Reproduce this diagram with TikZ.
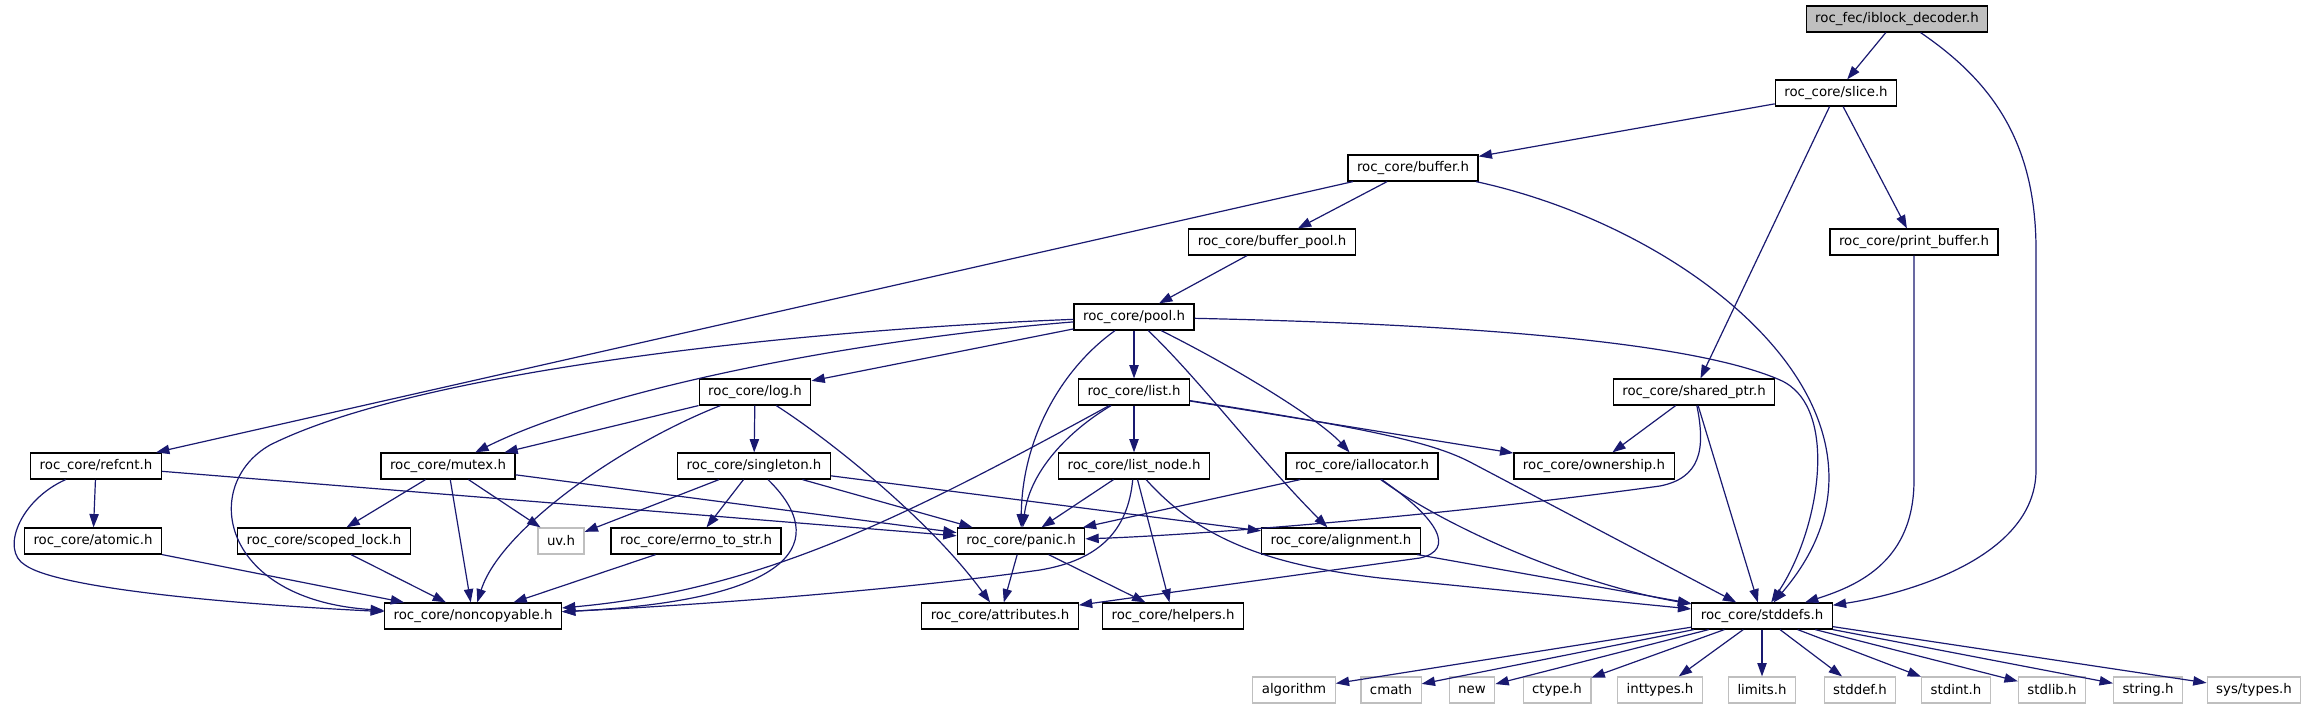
\documentclass[tikz,border=0pt]{standalone}
\usepackage{fontspec}
\setmainfont{DejaVu Sans}
\usetikzlibrary{arrows.meta}
\definecolor{edgeblue}{HTML}{191970}
\definecolor{sysgray}{HTML}{BFBFBF}
\tikzset{
  hdr/.style={draw=black,line width=0.9pt,fill=white,inner xsep=6.75pt,inner ysep=0pt,
    minimum height=19.5pt,font=\fontsize{10}{12}\selectfont},
  mainhdr/.style={hdr,fill=sysgray},
  syshdr/.style={hdr,draw=sysgray},
  dep/.style={draw=edgeblue,line width=0.9pt,-{Triangle[length=10pt,width=7pt]}}
}

\begin{document}
\begin{tikzpicture}[x=0.75pt,y=-0.75pt]
\useasboundingbox (0,0) rectangle (2308,709);
% headers, one row of the graph after the other
\node[mainhdr] (iblock) at (1897,19) {roc\_fec/iblock\_decoder.h};
\node[hdr] (slice) at (1836,93) {roc\_core/slice.h};
\node[hdr] (buffer) at (1413,168) {roc\_core/buffer.h};
\node[hdr] (bufpool) at (1272,242) {roc\_core/buffer\_pool.h};
\node[hdr] (printbuf) at (1914,242) {roc\_core/print\_buffer.h};
\node[hdr] (pool) at (1134,317) {roc\_core/pool.h};
\node[hdr] (log) at (755,392) {roc\_core/log.h};
\node[hdr] (list) at (1134,392) {roc\_core/list.h};
\node[hdr] (sharedptr) at (1694,392) {roc\_core/shared\_ptr.h};
\node[hdr] (refcnt) at (96,466) {roc\_core/refcnt.h};
\node[hdr] (mutex) at (448,466) {roc\_core/mutex.h};
\node[hdr] (singleton) at (754,466) {roc\_core/singleton.h};
\node[hdr] (listnode) at (1134,466) {roc\_core/list\_node.h};
\node[hdr] (iallocator) at (1362,466) {roc\_core/iallocator.h};
\node[hdr] (ownership) at (1594,466) {roc\_core/ownership.h};
\node[hdr] (atomic) at (93,541) {roc\_core/atomic.h};
\node[hdr] (scopedlock) at (324,541) {roc\_core/scoped\_lock.h};
\node[syshdr] (uv) at (561,541) {uv.h};
\node[hdr] (errnostr) at (696,541) {roc\_core/errno\_to\_str.h};
\node[hdr] (panic) at (1021,541) {roc\_core/panic.h};
\node[hdr] (alignment) at (1341,541) {roc\_core/alignment.h};
\node[hdr] (noncopyable) at (473,616) {roc\_core/noncopyable.h};
\node[hdr] (attributes) at (1000,616) {roc\_core/attributes.h};
\node[hdr] (helpers) at (1173,616) {roc\_core/helpers.h};
\node[hdr] (stddefs) at (1762,616) {roc\_core/stddefs.h};
% system headers
\node[syshdr] (algorithm) at (1294,690) {algorithm};
\node[syshdr] (cmath) at (1391,690) {cmath};
\node[syshdr] (new) at (1472,690) {new};
\node[syshdr] (ctype) at (1557,690) {ctype.h};
\node[syshdr] (inttypes) at (1660,690) {inttypes.h};
\node[syshdr] (limits) at (1762,690) {limits.h};
\node[syshdr] (stddef) at (1860,690) {stddef.h};
\node[syshdr] (stdint) at (1956,690) {stdint.h};
\node[syshdr] (stdlib) at (2052,690) {stdlib.h};
\node[syshdr] (string) at (2148,690) {string.h};
\node[syshdr] (systypes) at (2254,690) {sys/types.h};

% includes
\draw[dep] (iblock) -- (slice);
\draw[dep] (iblock.-30) .. controls (1990,80) and (2036,140) .. (2036,250) -- (2036,470) .. controls (2036,560) and (1900,595) .. (stddefs);
\draw[dep] (slice) -- (buffer);
\draw[dep] (slice) -- (sharedptr);
\draw[dep] (slice) -- (printbuf);
\draw[dep] (buffer) -- (bufpool);
\draw[dep] (buffer) -- (refcnt);
\draw[dep] (buffer) .. controls (1700,230) and (1930,420) .. (stddefs);
\draw[dep] (bufpool) -- (pool);
\draw[dep] (printbuf) -- (1914,480) .. controls (1914,560) and (1860,585) .. (stddefs);
\draw[dep] (pool) -- (log);
\draw[dep] (pool) .. controls (850,340) and (600,390) .. (mutex);
\draw[dep] (pool) .. controls (800,330) and (420,370) .. (270,445) .. controls (200,485) and (220,600) .. (noncopyable);
\draw[dep] (pool) -- (list);
\draw[dep] (pool) .. controls (1060,370) and (1022,440) .. (panic);
\draw[dep] (pool) .. controls (1200,380) and (1260,460) .. (alignment);
\draw[dep] (pool) .. controls (1240,370) and (1320,420) .. (iallocator);
\draw[dep] (pool) .. controls (1500,325) and (1700,345) .. (1780,380) .. controls (1840,406) and (1820,530) .. (stddefs);
\draw[dep] (list) -- (listnode);
\draw[dep] (list) .. controls (1070,430) and (1030,470) .. (panic);
\draw[dep] (list) .. controls (900,520) and (760,590) .. (noncopyable);
\draw[dep] (list) -- (ownership);
\draw[dep] (list) .. controls (1380,430) and (1435,444) .. (1470,462) -- (stddefs);
\draw[dep] (listnode) -- (panic);
\draw[dep] (listnode) .. controls (1128,530) and (1100,560) .. (1040,570) .. controls (900,590) and (700,605) .. (noncopyable);
\draw[dep] (listnode) -- (helpers);
\draw[dep] (listnode) .. controls (1200,540) and (1270,565) .. (1380,578) -- (stddefs);
\draw[dep] (iallocator) -- (panic);
\draw[dep] (iallocator) .. controls (1440,520) and (1455,550) .. (1420,558) -- (attributes);
\draw[dep] (iallocator) .. controls (1450,530) and (1580,585) .. (stddefs);
\draw[dep] (alignment) -- (stddefs);
\draw[dep] (sharedptr) -- (ownership);
\draw[dep] (sharedptr) .. controls (1706,450) and (1700,478) .. (1660,486) .. controls (1450,515) and (1200,535) .. (panic);
\draw[dep] (sharedptr) -- (stddefs);
\draw[dep] (log) -- (mutex);
\draw[dep] (log) -- (singleton);
\draw[dep] (log) .. controls (620,445) and (500,530) .. (noncopyable);
\draw[dep] (log) .. controls (830,440) and (930,520) .. (attributes);
\draw[dep] (refcnt) -- (atomic);
\draw[dep] (refcnt) .. controls (20,500) and (0,550) .. (25,565) .. controls (60,590) and (250,605) .. (noncopyable);
\draw[dep] (refcnt) -- (panic);
\draw[dep] (mutex) -- (scopedlock);
\draw[dep] (mutex) -- (noncopyable);
\draw[dep] (mutex) -- (uv);
\draw[dep] (mutex) -- (panic);
\draw[dep] (singleton) -- (uv);
\draw[dep] (singleton) -- (errnostr);
\draw[dep] (singleton) .. controls (830,540) and (800,600) .. (noncopyable);
\draw[dep] (singleton) -- (panic);
\draw[dep] (singleton) -- (alignment);
\draw[dep] (atomic) -- (noncopyable);
\draw[dep] (scopedlock) -- (noncopyable);
\draw[dep] (errnostr) -- (noncopyable);
\draw[dep] (panic) -- (attributes);
\draw[dep] (panic) -- (helpers);
\draw[dep] (stddefs) -- (algorithm);
\draw[dep] (stddefs) -- (cmath);
\draw[dep] (stddefs) -- (new);
\draw[dep] (stddefs) -- (ctype);
\draw[dep] (stddefs) -- (inttypes);
\draw[dep] (stddefs) -- (limits);
\draw[dep] (stddefs) -- (stddef);
\draw[dep] (stddefs) -- (stdint);
\draw[dep] (stddefs) -- (stdlib);
\draw[dep] (stddefs) -- (string);
\draw[dep] (stddefs) -- (systypes);
\end{tikzpicture}
\end{document}
